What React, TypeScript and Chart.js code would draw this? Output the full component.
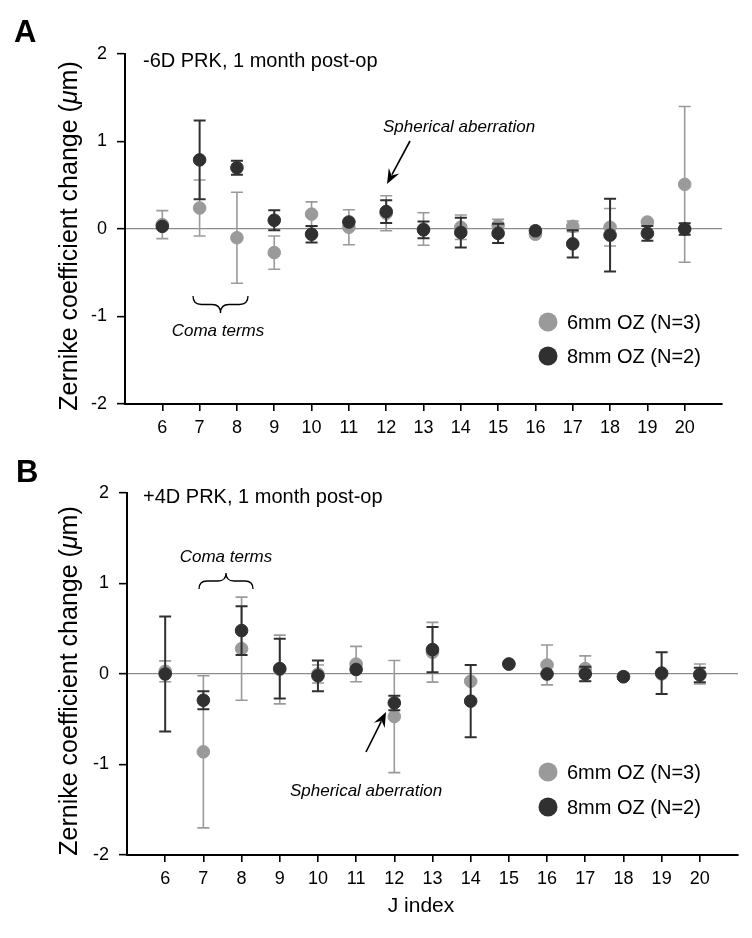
import React, { useEffect, useRef } from 'react';
import { Chart, registerables } from 'chart.js';

Chart.register(...registerables);

// ---------------- data ----------------
const jIndex = [6, 7, 8, 9, 10, 11, 12, 13, 14, 15, 16, 17, 18, 19, 20];
const yTickValues = [-2, -1, 0, 1, 2];

const seriesLabels = ['6mm OZ (N=3)', '8mm OZ (N=2)'];
const panelLetters = ['A', 'B'];
const panelTitles = ['-6D PRK, 1 month post-op', '+4D PRK, 1 month post-op'];
const xAxisTitle = 'J index';
const annotationSph = 'Spherical aberration';
const annotationComa = 'Coma terms';

// Panel A: -6D PRK
const a6mmMean = [0.05, 0.24, -0.10, -0.27, 0.17, 0.02, 0.18, 0.00, 0.02, 0.04, -0.06, 0.03, 0.02, 0.08, 0.51];
const a6mmErr = [0.16, 0.32, 0.52, 0.19, 0.14, 0.20, 0.20, 0.185, 0.14, 0.07, 0, 0.06, 0.215, 0, 0.89];
const a8mmMean = [0.03, 0.79, 0.70, 0.10, -0.06, 0.08, 0.20, -0.01, -0.04, -0.05, -0.02, -0.17, -0.07, -0.05, 0.00];
const a8mmErr = [0, 0.45, 0.08, 0.115, 0.095, 0, 0.13, 0.095, 0.17, 0.11, 0, 0.155, 0.415, 0.085, 0.065];

// Panel B: +4D PRK
const b6mmMean = [0.03, -0.86, 0.28, 0.05, 0.00, 0.11, -0.47, 0.24, -0.08, 0.11, 0.10, 0.06, -0.03, 0.00, 0.00];
const b6mmErr = [0.115, 0.84, 0.57, 0.38, 0.10, 0.195, 0.62, 0.33, 0, 0, 0.22, 0.14, 0, 0, 0.11];
const b8mmMean = [0.00, -0.29, 0.48, 0.06, -0.02, 0.05, -0.32, 0.27, -0.30, 0.11, 0.00, 0.00, -0.03, 0.01, -0.01];
const b8mmErr = [0.635, 0.10, 0.27, 0.33, 0.17, 0, 0.08, 0.25, 0.40, 0, 0, 0.08, 0, 0.23, 0.08];

// ---------------- styles ----------------
const FF = "'Liberation Sans', Arial, Helvetica, sans-serif";
const LIGHT = '#9a9a9a';
const DARK = '#303030';

const errorBarPlugin = {
  id: 'errorBars',
  beforeDatasetDraw(chart: any, args: any) {
    const ds = chart.data.datasets[args.index];
    const errs: number[] | undefined = ds.errors;
    if (!errs) return;
    const xs = chart.scales.x;
    const ys = chart.scales.y;
    const ctx: CanvasRenderingContext2D = chart.ctx;
    ctx.save();
    ctx.strokeStyle = ds.errColor;
    ctx.lineWidth = ds.errWidth;
    const cap = 6;
    ds.data.forEach((pt: any, i: number) => {
      const e = errs[i];
      if (!e) return;
      const x = xs.getPixelForValue(pt.x);
      const yt = ys.getPixelForValue(pt.y + e);
      const yb = ys.getPixelForValue(pt.y - e);
      ctx.beginPath();
      ctx.moveTo(x, yt);
      ctx.lineTo(x, yb);
      ctx.moveTo(x - cap, yt);
      ctx.lineTo(x + cap, yt);
      ctx.moveTo(x - cap, yb);
      ctx.lineTo(x + cap, yb);
      ctx.stroke();
    });
    ctx.restore();
  },
};

function drawArrow(ctx: CanvasRenderingContext2D, x1: number, y1: number, x2: number, y2: number) {
  const ang = Math.atan2(y2 - y1, x2 - x1);
  const hl = 15;
  const hw = 6;
  const c = Math.cos(ang);
  const s = Math.sin(ang);
  ctx.save();
  ctx.strokeStyle = '#000';
  ctx.fillStyle = '#000';
  ctx.lineWidth = 1.6;
  ctx.beginPath();
  ctx.moveTo(x1, y1);
  ctx.lineTo(x2 - hl * 0.7 * c, y2 - hl * 0.7 * s);
  ctx.stroke();
  ctx.beginPath();
  ctx.moveTo(x2, y2);
  ctx.lineTo(x2 - hl * c + hw * s, y2 - hl * s - hw * c);
  ctx.lineTo(x2 - hl * 0.65 * c, y2 - hl * 0.65 * s);
  ctx.lineTo(x2 - hl * c - hw * s, y2 - hl * s + hw * c);
  ctx.closePath();
  ctx.fill();
  ctx.restore();
}

function drawBrace(ctx: CanvasRenderingContext2D, x1: number, x2: number, y0: number, h: number, dir: number) {
  const ym = y0 + dir * h * 0.5;
  const yt = y0 + dir * h;
  const xm = (x1 + x2) / 2;
  const r = h * 0.5;
  ctx.save();
  ctx.strokeStyle = '#000';
  ctx.lineWidth = 1.3;
  ctx.beginPath();
  ctx.moveTo(x1, y0);
  ctx.quadraticCurveTo(x1, ym, x1 + r, ym);
  ctx.lineTo(xm - r, ym);
  ctx.quadraticCurveTo(xm, ym, xm, yt);
  ctx.quadraticCurveTo(xm, ym, xm + r, ym);
  ctx.lineTo(x2 - r, ym);
  ctx.quadraticCurveTo(x2, ym, x2, y0);
  ctx.stroke();
  ctx.restore();
}

function drawYTitle(ctx: CanvasRenderingContext2D, cx: number, cy: number) {
  const parts: [string, string][] = [
    ['Zernike coefficient change (', ''],
    ['\u03BC', 'italic '],
    ['m)', ''],
  ];
  const size = 25;
  ctx.save();
  ctx.translate(cx, cy);
  ctx.rotate(-Math.PI / 2);
  ctx.fillStyle = '#000';
  ctx.textBaseline = 'middle';
  ctx.textAlign = 'left';
  let total = 0;
  const widths = parts.map(([t, st]) => {
    ctx.font = `${st}${size}px ${FF}`;
    const w = ctx.measureText(t).width;
    total += w;
    return w;
  });
  let x = -total / 2;
  parts.forEach(([t, st], i) => {
    ctx.font = `${st}${size}px ${FF}`;
    ctx.fillText(t, x, 0);
    x += widths[i];
  });
  ctx.restore();
}

function drawLegend(ctx: CanvasRenderingContext2D, x: number, y1: number, y2: number) {
  const rows: [number, string, string][] = [
    [y1, LIGHT, seriesLabels[0]],
    [y2, DARK, seriesLabels[1]],
  ];
  ctx.save();
  rows.forEach(([y, col, label]) => {
    ctx.fillStyle = col;
    ctx.beginPath();
    ctx.arc(x, y, 9.5, 0, Math.PI * 2);
    ctx.fill();
    ctx.fillStyle = '#000';
    ctx.font = `20px ${FF}`;
    ctx.textBaseline = 'middle';
    ctx.textAlign = 'left';
    ctx.fillText(label, x + 19, y + 1);
  });
  ctx.restore();
}

function text(ctx: CanvasRenderingContext2D, s: string, x: number, y: number, font: string, align: CanvasTextAlign = 'left', baseline: CanvasTextBaseline = 'alphabetic') {
  ctx.save();
  ctx.fillStyle = '#000';
  ctx.font = font;
  ctx.textAlign = align;
  ctx.textBaseline = baseline;
  ctx.fillText(s, x, y);
  ctx.restore();
}

type PanelProps = {
  width: number;
  height: number;
  padTop: number;
  padRight: number;
  yAxisWidth: number;
  xAxisHeight: number;
  light: number[];
  lightErr: number[];
  dark: number[];
  darkErr: number[];
  decorate: (ctx: CanvasRenderingContext2D) => void;
};

function Panel(p: PanelProps) {
  const ref = useRef<HTMLCanvasElement | null>(null);
  useEffect(() => {
    if (!ref.current) return;
    const annot = {
      id: 'annot',
      afterDraw(chart: any) {
        p.decorate(chart.ctx);
      },
    };
    const chart = new Chart(ref.current, {
      type: 'scatter',
      data: {
        datasets: [
          {
            label: seriesLabels[1],
            data: jIndex.map((j, i) => ({ x: j, y: p.dark[i] })),
            errors: p.darkErr,
            errColor: DARK,
            errWidth: 2,
            pointRadius: 6.3,
            pointBorderWidth: 1,
            backgroundColor: DARK,
            borderColor: DARK,
          } as any,
          {
            label: seriesLabels[0],
            data: jIndex.map((j, i) => ({ x: j, y: p.light[i] })),
            errors: p.lightErr,
            errColor: LIGHT,
            errWidth: 1.6,
            pointRadius: 6.3,
            pointBorderWidth: 1,
            backgroundColor: LIGHT,
            borderColor: LIGHT,
          } as any,
        ],
      },
      options: {
        animation: false,
        responsive: false,
        events: [],
        layout: { padding: { top: p.padTop, right: p.padRight, left: 0, bottom: 0 } },
        plugins: { legend: { display: false }, tooltip: { enabled: false } },
        scales: {
          x: {
            type: 'linear',
            min: 5,
            max: 21,
            afterBuildTicks: (s: any) => {
              s.ticks = jIndex.map((v) => ({ value: v }));
            },
            afterFit: (s: any) => {
              s.height = p.xAxisHeight;
            },
            grid: { drawOnChartArea: false, color: '#000', tickLength: 7, lineWidth: 1.6 },
            border: { color: '#000', width: 2 },
            ticks: { color: '#000', font: { family: FF, size: 18 }, padding: 6, autoSkip: false, maxRotation: 0 },
          },
          y: {
            type: 'linear',
            min: -2,
            max: 2,
            afterBuildTicks: (s: any) => {
              s.ticks = yTickValues.map((v) => ({ value: v }));
            },
            afterFit: (s: any) => {
              s.width = p.yAxisWidth;
            },
            grid: {
              color: (c: any) => (c.tick && c.tick.value === 0 ? '#8c8c8c' : 'rgba(0,0,0,0)'),
              tickColor: '#000',
              tickLength: 8,
              lineWidth: 1.3,
              tickWidth: 1.6,
            },
            border: { color: '#000', width: 2 },
            ticks: { color: '#000', font: { family: FF, size: 18 }, padding: 10 },
          },
        },
      } as any,
      plugins: [errorBarPlugin, annot],
    });
    return () => chart.destroy();
  }, []);
  return <canvas ref={ref} width={p.width} height={p.height} style={{ display: 'block', width: p.width, height: p.height }} />;
}

export default function App() {
  const decorateA = (ctx: CanvasRenderingContext2D) => {
    text(ctx, panelLetters[0], 14, 42, `bold 31px ${FF}`);
    text(ctx, panelTitles[0], 143, 67, `20px ${FF}`);
    text(ctx, annotationSph, 383, 132, `italic 17px ${FF}`);
    drawArrow(ctx, 410, 141, 387, 184);
    drawBrace(ctx, 193, 248, 296, 17, 1);
    text(ctx, annotationComa, 218, 336, `italic 17px ${FF}`, 'center');
    drawLegend(ctx, 548, 322, 356);
    drawYTitle(ctx, 70, 236);
  };
  const decorateB = (ctx: CanvasRenderingContext2D) => {
    text(ctx, panelLetters[1], 16, 22, `bold 31px ${FF}`);
    text(ctx, panelTitles[1], 143, 43, `20px ${FF}`);
    text(ctx, annotationComa, 226, 102, `italic 17px ${FF}`, 'center');
    drawBrace(ctx, 199, 253, 129, 16, -1);
    text(ctx, annotationSph, 290, 336, `italic 17px ${FF}`);
    drawArrow(ctx, 366, 292, 386, 252);
    drawLegend(ctx, 548, 312, 347);
    drawYTitle(ctx, 70, 221);
    text(ctx, xAxisTitle, 421, 446, `21px ${FF}`, 'center', 'middle');
  };
  return (
    <div style={{ position: 'absolute', left: 0, top: 0, width: 752, height: 938, background: '#fff' }}>
      <Panel
        width={752}
        height={460}
        padTop={54}
        padRight={30}
        yAxisWidth={125}
        xAxisHeight={56}
        light={a6mmMean}
        lightErr={a6mmErr}
        dark={a8mmMean}
        darkErr={a8mmErr}
        decorate={decorateA}
      />
      <Panel
        width={752}
        height={478}
        padTop={33}
        padRight={14}
        yAxisWidth={127}
        xAxisHeight={83}
        light={b6mmMean}
        lightErr={b6mmErr}
        dark={b8mmMean}
        darkErr={b8mmErr}
        decorate={decorateB}
      />
    </div>
  );
}
